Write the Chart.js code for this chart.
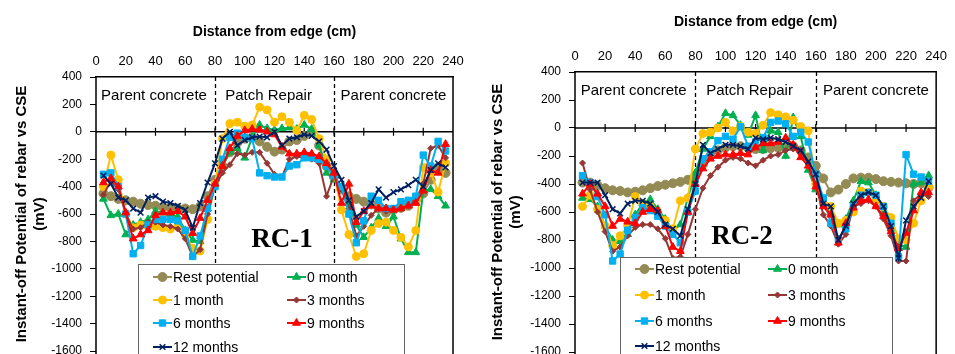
<!DOCTYPE html>
<html>
<head>
<meta charset="utf-8">
<script src="https://cdn.jsdelivr.net/npm/chart.js@4.4.1/dist/chart.umd.min.js"></script>
<style>
  html, body { margin: 0; padding: 0; background: #fff; width: 955px; height: 354px; overflow: hidden; }
  .panel { position: absolute; top: 0; }
  #p1 { left: 0; }
  #p2 { left: 478px; }
</style>
</head>
<body>
<div class="panel" id="p1"><canvas id="rc1" width="478" height="390"></canvas></div>
<div class="panel" id="p2"><canvas id="rc2" width="477" height="390"></canvas></div>
<script>
// 測点位置 (cm)
const distance = [5, 10, 15, 20, 25, 30, 35, 40, 45, 50, 55, 60, 65, 70, 75, 80,
  85, 90, 95, 100, 105, 110, 115, 120, 125, 130, 135, 140, 145, 150, 155, 160,
  165, 170, 175, 180, 185, 190, 195, 200, 205, 210, 215, 220, 225, 230, 235];

const xTicks = [0, 20, 40, 60, 80, 100, 120, 140, 160, 180, 200, 220, 240];
const yTicks = [400, 200, 0, -200, -400, -600, -800, -1000, -1200, -1400, -1600];

const seriesNames = ["Rest potential", "0 month", "1 month", "3 months", "6 months", "9 months", "12 months"];

// RC-1 (mV)
const rc1Rest = [-450, -470, -490, -500, -510, -525, -535, -540, -550, -555, -560, -560, -565, -545, -470, -350,
  -250, -150, -80, -50, -40, -70, -110, -145, -130, -70, -60, -30, 0, -100, -250, -330,
  -420, -470, -490, -510, -530, -560, -590, -570, -555, -540, -500, -450, -350, -260, -300];
const rc1M0 = [-490, -610, -600, -750, -680, -660, -640, -580, -590, -600, -620, -720, -790, -800, -560, -380,
  -250, -150, -120, -190, -40, 50, 25, 15, 25, 30, 20, 50, 20, -100, -300, -350,
  -420, -520, -680, -770, -700, -630, -690, -620, -780, -880, -880, -430, -420, -470, -540];
const rc1M1 = [-400, -170, -350, -600, -700, -680, -690, -690, -700, -710, -690, -750, -850, -870, -640, -380,
  -50, 60, 70, 40, 50, 180, 160, 70, 110, 70, 10, 120, 90, -50, -200, -300,
  -570, -750, -910, -890, -720, -670, -660, -720, -770, -840, -720, -260, -300, -440, -230];
const rc1M3 = [-460, -360, -420, -600, -710, -700, -660, -660, -680, -690, -710, -780, -910, -860, -600, -400,
  -300, -240, -160, -170, -150, -150, -230, -310, -330, -200, -180, -190, -200, -230, -470, -320,
  -420, -560, -760, -690, -610, -560, -580, -560, -560, -540, -500, -380, -120, -100, -190];
const rc1M6 = [-310, -300, -400, -600, -890, -830, -680, -640, -640, -640, -650, -720, -910, -760, -560, -400,
  -200, -40, -10, -40, -50, -300, -320, -330, -330, -250, -240, -190, -190, -200, -250, -320,
  -400, -600, -810, -650, -470, -500, -560, -560, -510, -500, -470, -170, -250, -70, -140];
const rc1M9 = [-370, -340, -400, -590, -780, -750, -720, -610, -590, -590, -580, -620, -740, -630, -500, -380,
  -250, -120, -30, 10, 20, 15, 0, -20, -110, -160, -160, -150, -160, -180, -230, -300,
  -520, -380, -660, -580, -540, -560, -560, -570, -560, -540, -520, -430, -280, -300, -90];
const rc1M12 = [-320, -380, -480, -500, -560, -590, -480, -470, -510, -520, -540, -570, -700, -520, -370, -230,
  -50, 0, -100, -60, -40, -35, -40, 0, -100, -50, -40, -20, -30, -70, -130, -250,
  -350, -500, -620, -580, -520, -420, -480, -440, -420, -390, -350, -400, -280, -230, -260];

// RC-2 (mV)
const rc2Rest = [-390, -390, -410, -430, -445, -450, -460, -455, -445, -430, -415, -405, -395, -385, -370, -340,
  -260, -200, -160, -140, -130, -130, -140, -150, -150, -145, -140, -135, -130, -160, -210, -270,
  -360, -460, -440, -400, -360, -355, -355, -365, -380, -385, -390, -395, -400, -395, -425];
const rc2M0 = [-500, -510, -560, -700, -800, -810, -760, -620, -540, -510, -580, -650, -730, -690, -500, -320,
  -150, -60, 10, 105, 90, 20, -50, 90, -160, -20, -30, -200, 75, -60, -300, -440,
  -520, -600, -690, -650, -520, -380, -390, -480, -610, -720, -830, -850, -400, -390, -340];
const rc2M1 = [-560, -480, -580, -700, -840, -770, -700, -490, -540, -560, -600, -660, -720, -520, -500, -150,
  -40, -30, 0, 40, -20, 10, -30, -40, 20, 110, 95, 80, 55, 10, -20, -400,
  -540, -560, -680, -660, -600, -450, -460, -520, -560, -640, -790, -800, -680, -520, -420];
const rc2M3 = [-250, -440, -600, -740, -880, -850, -770, -710, -690, -690, -720, -790, -930, -920, -760, -580,
  -430, -340, -280, -230, -210, -220, -250, -270, -230, -200, -190, -160, -150, -160, -250, -400,
  -620, -700, -830, -760, -560, -540, -520, -560, -650, -770, -950, -950, -520, -470, -490];
const rc2M6 = [-340, -390, -490, -620, -950, -900, -730, -640, -570, -590, -630, -700, -760, -820, -600, -450,
  -220, -170, -90, -60, -80, 10, -130, -100, -70, 40, 50, 30, -60, -30, -100, -330,
  -500, -680, -790, -720, -560, -480, -460, -480, -560, -680, -920, -190, -330, -350, -380];
const rc2M9 = [-470, -400, -470, -560, -700, -650, -670, -680, -600, -580, -590, -700, -850, -880, -600, -400,
  -290, -220, -200, -190, -190, -180, -190, -140, -110, -110, -100, -70, -120, -210, -270, -420,
  -560, -620, -820, -680, -570, -520, -510, -560, -630, -740, -860, -750, -590, -460, -460];
const rc2M12 = [-390, -390, -390, -480, -580, -610, -540, -520, -520, -540, -600, -690, -720, -770, -580, -400,
  -120, -180, -150, -120, -120, -130, -150, -70, -80, -70, -80, -100, -130, -160, -240, -330,
  -540, -560, -800, -700, -540, -480, -460, -480, -560, -700, -930, -660, -560, -500, -380];

const rc1Values = [rc1Rest, rc1M0, rc1M1, rc1M3, rc1M6, rc1M9, rc1M12];
const rc2Values = [rc2Rest, rc2M0, rc2M1, rc2M3, rc2M6, rc2M9, rc2M12];

// 系列ごとの見た目
const seriesColors = ["#948A54", "#00B050", "#FFC000", "#953735", "#00B0F0", "#FF0000", "#002060"];
const seriesMarkers = ["circle", "triangle", "circle", "rectRot", "rect", "triangle", "crossRot"];
const markerRadius = [4.5, 4.5, 4, 3, 4.5, 4.5, 4];

Chart.defaults.font.family = "Arial, 'Liberation Sans', sans-serif";
Chart.defaults.color = "#000";

// 枠線、区間ラベル、破線、0ライン、凡例
const panelDecor = {
  id: "panelDecor",
  beforeDatasetsDraw(chart, args, opts) {
    const { ctx, chartArea: a, scales: { x, y } } = chart;
    ctx.save();
    // 左右の枠 (グラフ下端は切れているので canvas 下まで引く)
    ctx.strokeStyle = "#000";
    ctx.lineWidth = 1.5;
    ctx.beginPath();
    ctx.moveTo(a.left, a.top);
    ctx.lineTo(a.left, chart.height);
    ctx.moveTo(a.right, a.top);
    ctx.lineTo(a.right, chart.height);
    ctx.stroke();

    // 補修境界の破線
    ctx.lineWidth = 1.3;
    ctx.setLineDash([4, 3]);
    [80, 160].forEach(v => {
      const px = Math.round(x.getPixelForValue(v)) + 0.5;
      ctx.beginPath();
      ctx.moveTo(px, a.top);
      ctx.lineTo(px, chart.height);
      ctx.stroke();
    });
    ctx.setLineDash([]);

    // 0 mV の軸線と目盛
    const y0 = y.getPixelForValue(0);
    ctx.lineWidth = 1.5;
    ctx.beginPath();
    ctx.moveTo(a.left, y0);
    ctx.lineTo(a.right, y0);
    ctx.stroke();
    ctx.lineWidth = 1.2;
    xTicks.slice(1, -1).forEach(v => {
      const px = x.getPixelForValue(v);
      ctx.beginPath();
      ctx.moveTo(px, y0 - 4);
      ctx.lineTo(px, y0 + 4);
      ctx.stroke();
    });

    // 区間名
    ctx.fillStyle = "#000";
    ctx.font = "15px Arial, 'Liberation Sans', sans-serif";
    ctx.textAlign = "center";
    ctx.textBaseline = "middle";
    opts.regions.forEach(r => {
      ctx.fillText(r.text, x.getPixelForValue(r.x), y.getPixelForValue(r.y));
    });

    // 試験体名
    ctx.font = "bold 27px 'Times New Roman', 'Liberation Serif', serif";
    ctx.fillText(opts.tag.text, x.getPixelForValue(opts.tag.x), y.getPixelForValue(opts.tag.y));
    ctx.restore();
  },
  afterDatasetsDraw(chart, args, opts) {
    const { ctx } = chart;
    const lg = opts.legend;
    ctx.save();
    ctx.fillStyle = "#fff";
    ctx.fillRect(lg.left, lg.top, lg.width, lg.height);
    ctx.strokeStyle = "#666";
    ctx.lineWidth = 1;
    ctx.strokeRect(lg.left + 0.5, lg.top + 0.5, lg.width, lg.height);

    ctx.font = "14px Arial, 'Liberation Sans', sans-serif";
    ctx.textBaseline = "middle";
    ctx.textAlign = "left";
    chart.data.datasets.forEach((ds, i) => {
      const lx = lg.cols[i % 2];
      const ly = lg.rows[Math.floor(i / 2)];
      ctx.strokeStyle = ds.borderColor;
      ctx.fillStyle = ds.borderColor;
      ctx.lineWidth = 2;
      ctx.beginPath();
      ctx.moveTo(lx, ly);
      ctx.lineTo(lx + lg.lineLen, ly);
      ctx.stroke();
      ctx.lineWidth = ds.pointBorderWidth;
      Chart.helpers.drawPoint(ctx, {
        pointStyle: ds.pointStyle,
        radius: ds.pointRadius,
        borderWidth: ds.pointBorderWidth,
        rotation: 0
      }, lx + lg.lineLen / 2, ly);
      ctx.fillStyle = "#000";
      ctx.fillText(ds.label, lx + lg.lineLen + 1, ly + 1);
    });
    ctx.restore();
  }
};

function buildDatasets(values) {
  return values.map((vals, i) => ({
    label: seriesNames[i],
    data: distance.map((d, j) => ({ x: d, y: vals[j] })),
    borderColor: seriesColors[i],
    backgroundColor: seriesColors[i],
    pointBackgroundColor: seriesColors[i],
    pointBorderColor: seriesColors[i],
    pointStyle: seriesMarkers[i],
    pointRadius: markerRadius[i],
    pointBorderWidth: i === 6 ? 1.5 : 1,
    borderWidth: 2,
    tension: 0,
    fill: false,
    clip: false,
    order: 6 - i
  }));
}

function drawPanel(canvasId, values, g) {
  new Chart(document.getElementById(canvasId), {
    type: "line",
    data: { datasets: buildDatasets(values) },
    options: {
      responsive: false,
      animation: false,
      events: [],
      layout: { padding: { left: 0, top: 0, right: g.padRight, bottom: g.padBottom } },
      plugins: {
        legend: { display: false },
        tooltip: { enabled: false },
        panelDecor: {
          regions: [
            { x: 39, y: 265, text: "Parent concrete" },
            { x: 116, y: 265, text: "Patch Repair" },
            { x: 200, y: 265, text: "Parent concrete" }
          ],
          tag: g.tag,
          legend: g.legend
        }
      },
      scales: {
        x: {
          type: "linear",
          position: "top",
          min: 0,
          max: 240,
          afterBuildTicks: s => { s.ticks = xTicks.map(v => ({ value: v })); },
          ticks: { padding: 8, font: { size: 13 }, maxRotation: 0, autoSkip: false, callback: v => String(v) },
          grid: { display: false, drawTicks: false },
          border: { display: true, color: "#000", width: 1.5 },
          title: {
            display: true,
            text: "Distance from edge (cm)",
            font: { size: 14, weight: "bold" },
            padding: { top: g.xTitlePad, bottom: 0 }
          },
          afterFit: s => { s.height = g.top; }
        },
        y: {
          type: "linear",
          min: -1600,
          max: 400,
          afterBuildTicks: s => { s.ticks = yTicks.map(v => ({ value: v })); },
          ticks: { padding: g.yTickPad, font: { size: 12 }, callback: v => String(v) },
          grid: { drawOnChartArea: false, drawTicks: true, tickLength: 6, color: "#000", lineWidth: 1 },
          border: { display: false },
          title: {
            display: true,
            text: ["Instant-off Potential of rebar vs CSE", "(mV)"],
            font: { size: 15, weight: "bold" },
            padding: { top: g.yTitlePad, bottom: 0 }
          },
          afterFit: s => { s.width = g.left; }
        }
      }
    },
    plugins: [panelDecor]
  });
}

drawPanel("rc1", rc1Values, {
  top: 77, left: 96, padRight: 25, padBottom: 39,
  xTitlePad: 23.9, yTitlePad: 12.7, yTickPad: 8,
  tag: { text: "RC-1", x: 125, y: -790 },
  legend: { left: 138, top: 264, width: 266, height: 140, cols: [153, 287], rows: [277, 300, 323, 347], lineLen: 19 }
});

drawPanel("rc2", rc2Values, {
  top: 72, left: 97, padRight: 14, padBottom: 38,
  xTitlePad: 13.3, yTitlePad: 10.5, yTickPad: 8,
  tag: { text: "RC-2", x: 111, y: -779 },
  legend: { left: 142, top: 257, width: 272, height: 140, cols: [157, 290], rows: [269, 295, 321, 346], lineLen: 19 }
});
</script>
</body>
</html>
